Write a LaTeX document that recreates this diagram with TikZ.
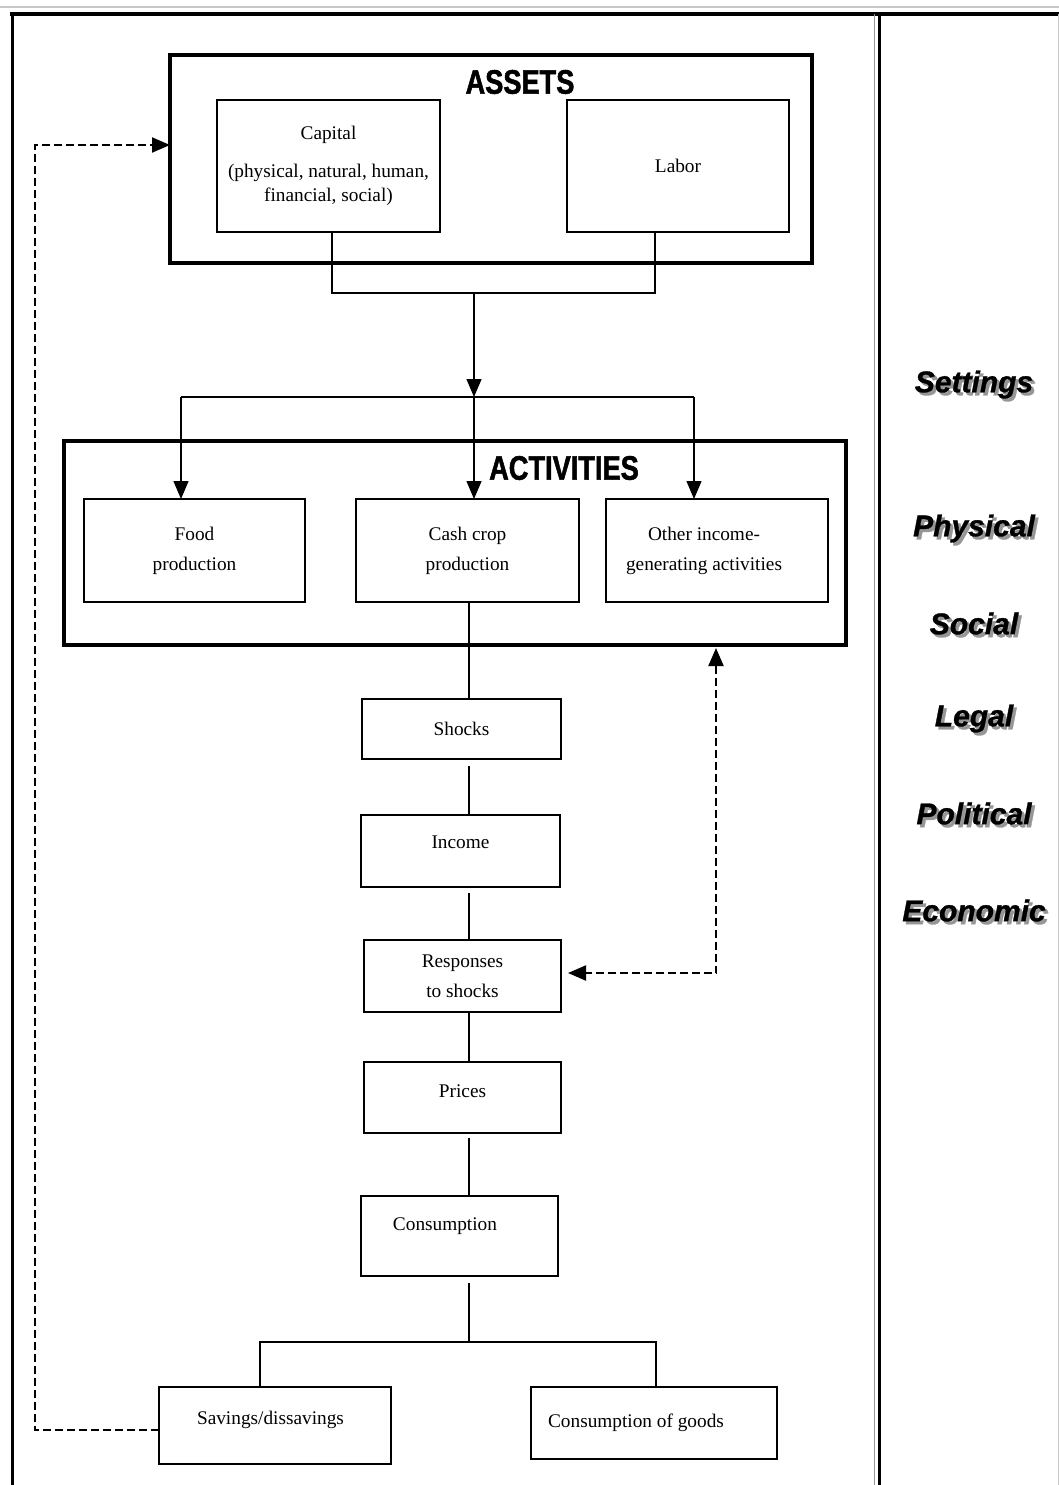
\documentclass[tikz,border=0pt]{standalone}
\usepackage{fontspec}
\setmainfont{Liberation Serif}
\newfontfamily\headfont[FakeStretch=0.8,FakeBold=1.5]{Liberation Sans}
\newfontfamily\sidefont[FakeBold=1]{Liberation Sans}
\usetikzlibrary{positioning,arrows.meta,calc}
\definecolor{sgray}{RGB}{150,150,150}
\definecolor{lgray}{RGB}{200,200,200}
\newcommand{\shadowed}[1]{\rlap{\hspace{3pt}\raisebox{-3pt}{\textcolor{sgray}{#1}}}#1}

\begin{document}
\begin{tikzpicture}[x=1pt,y=-1pt,
    box/.style={draw,line width=1.3pt,inner sep=0pt,outer sep=0pt,align=center,
      font=\fontsize{19.3}{30}\selectfont},
    sz/.style 2 args={minimum width=#1pt,minimum height=#2pt},
    frame/.style={draw,line width=3.5pt,inner sep=0pt,outer sep=0pt},
    head/.style={font=\headfont\bfseries\fontsize{34}{34}\selectfont},
    side/.style={font=\sidefont\bfseries\itshape\fontsize{30}{30}\selectfont},
    link/.style={line width=1.3pt},
    arr/.style={-{Triangle[length=18pt,width=15pt]}},
    fb/.style={line width=2pt,dash pattern=on 8pt off 4pt}]
  \useasboundingbox (0,0) rectangle (1059,1485);
  \fill[white] (0,0) rectangle (1059,1485);
  % outer frame
  \draw[lgray,line width=1.5pt] (0,7) -- (1059,7);
  \draw[line width=4pt] (10,14) -- (1059,14);
  \draw[line width=3pt] (12,12) -- (12,1485);
  \draw[sgray,line width=1pt] (874,14) -- (874,1485);
  \draw[line width=3pt] (879,14) -- (879,1485);
  \draw[lgray,line width=1pt] (1058,14) -- (1058,1485);
  % assets
  \node[frame,sz={642}{208}] (assets) at (491,159) {};
  \node[head] (assetsT) at (520,82) {ASSETS};
  \node[box,sz={223}{132},font=\fontsize{19.3}{24}\selectfont] (capital) at (328.5,166)
    {Capital\\[14pt](physical, natural, human,\\financial, social)};
  \node[box,sz={222}{132}] (labor) at (678,166) {Labor};
  % activities
  \node[frame,sz={782}{204}] (activities) at (455,543) {};
  \node[head] (activitiesT) at (564,468) {ACTIVITIES};
  \node[box,sz={221}{103}] (food) at (194.5,550.5) {Food\\production};
  \node[box,sz={223}{103}] (cash) at (467.5,550.5) {Cash crop\\production};
  \node[box,sz={222}{103}] (other) at (717,550.5)
    {Other income-\hspace*{26pt}\\generating activities\hspace*{26pt}};
  % chain
  \node[box,sz={199}{60}] (shocks) at (461.5,729) {Shocks};
  \node[box,sz={199}{72},text depth=18pt] (income) at (460.5,851) {Income};
  \node[box,sz={197}{72}] (responses) at (462.5,976) {Responses\\to shocks};
  \node[box,sz={197}{71},text depth=13pt] (prices) at (462.5,1097.5) {Prices};
  \node[box,sz={197}{80},text depth=24pt] (consump) at (459.5,1236) {Consumption\hspace*{29pt}};
  \node[box,sz={232}{77},text depth=15pt] (savings) at (275,1425.5) {Savings/dissavings\hspace*{9pt}};
  \node[box,sz={246}{72}] (goods) at (654,1423) {Consumption of goods\hspace*{36pt}};
  % settings
  \foreach \lab/\yy in {Settings/386,Physical/530,Social/625,Legal/720,Political/815,Economic/912}
    \node[side] (\lab) at (974,\yy) {\shadowed{\lab}};
  % connectors
  \coordinate (capDrop) at (332,293);
  \coordinate (labDrop) at (655,293);
  \coordinate (join) at (474,293);
  \coordinate (split) at (474,397);
  \coordinate (colA) at (181,397);
  \coordinate (colC) at (694,397);
  \coordinate (spine) at (469,650);
  \coordinate (fork) at (469,1342);
  \coordinate (forkL) at (260,1342);
  \coordinate (forkR) at (656,1342);
  \coordinate (loopTop) at (35,145);
  \coordinate (loopBot) at (35,1430);
  \coordinate (fbCorner) at (716,973);
  \draw[link] (capDrop |- capital.south) -- (capDrop) -- (labDrop) -- (labDrop |- labor.south);
  \draw[link,arr] (join) -- (split);
  \draw[link] (colA) -- (colC);
  \foreach \c/\n in {colA/food,split/cash,colC/other}
    \draw[link,arr] (\c) -- (\c |- \n.north);
  \foreach \a/\b/\g in {cash/shocks/0,shocks/income/7,income/responses/6,responses/prices/0,prices/consump/5}
    \draw[link,shorten <=\g pt] (spine |- \a.south) -- (spine |- \b.north);
  \draw[link,shorten <=7pt] (spine |- consump.south) -- (fork);
  \draw[link] (forkL |- savings.north) -- (forkL) -- (forkR) -- (forkR |- goods.north);
  \draw[fb,arr] (loopBot -| savings.west) -- (loopBot) -- (loopTop) -- (loopTop -| assets.west);
  \draw[fb,{Triangle[length=18pt,width=15pt]}-{Triangle[length=18pt,width=15pt]},
    shorten <=3pt,shorten >=7pt] (fbCorner |- activities.south) -- (fbCorner) -- (fbCorner -| responses.east);
\end{tikzpicture}
\end{document}
